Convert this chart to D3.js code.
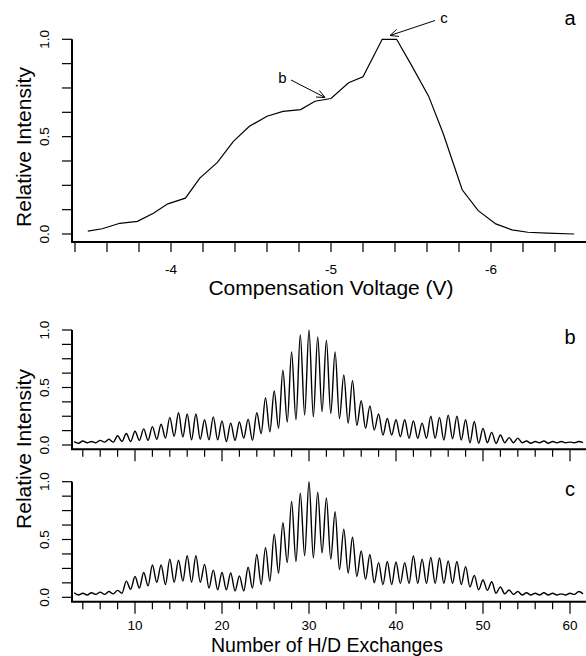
<!DOCTYPE html>
<html><head><meta charset="utf-8">
<script src="https://cdn.jsdelivr.net/npm/d3@7"></script>
<style>
html,body{margin:0;padding:0;background:#fff;}
svg{display:block;font-family:"Liberation Sans",Arial,sans-serif;}
</style></head>
<body><svg id="c" width="586" height="656"></svg>
<script>
// Panel a: compensation voltage scan
const cvVoltage = [-3.48,-3.57,-3.68,-3.79,-3.89,-3.98,-4.09,-4.18,-4.29,-4.39,-4.49,-4.60,-4.70,-4.81,-4.90,-5.00,-5.11,-5.20,-5.32,-5.41,-5.50,-5.61,-5.70,-5.82,-5.92,-6.03,-6.13,-6.23,-6.35,-6.52];
const cvIntensity = [0.015,0.027,0.055,0.065,0.107,0.155,0.184,0.287,0.368,0.476,0.553,0.605,0.630,0.639,0.682,0.696,0.777,0.808,1.0,1.0,0.871,0.708,0.519,0.227,0.120,0.052,0.021,0.009,0.004,0.0];

// Panels b and c: H/D exchange distributions (peak at each exchange number, valley after it)
const exchanges = d3.range(3, 62);
const peakB = [0.03,0.035,0.03,0.04,0.05,0.08,0.10,0.12,0.14,0.16,0.18,0.24,0.28,0.27,0.27,0.22,0.245,0.21,0.19,0.20,0.225,0.28,0.41,0.47,0.65,0.81,0.96,1.0,0.94,0.91,0.81,0.61,0.56,0.385,0.34,0.27,0.23,0.22,0.22,0.21,0.19,0.25,0.24,0.26,0.25,0.22,0.205,0.145,0.11,0.087,0.064,0.06,0.035,0.03,0.035,0.03,0.03,0.025,0.03];
const valleyB = [0.015,0.02,0.02,0.025,0.025,0.03,0.03,0.04,0.04,0.05,0.06,0.075,0.07,0.045,0.05,0.045,0.045,0.03,0.04,0.06,0.04,0.10,0.115,0.145,0.20,0.22,0.26,0.245,0.29,0.275,0.23,0.19,0.17,0.145,0.13,0.087,0.087,0.072,0.058,0.058,0.058,0.058,0.043,0.055,0.043,0.02,0.014,0.02,0.014,0.02,0.02,0.02,0.015,0.02,0.015,0.02,0.02,0.02,0.02];
const peakC = [0.04,0.035,0.04,0.045,0.05,0.06,0.14,0.18,0.215,0.28,0.28,0.33,0.32,0.36,0.36,0.285,0.235,0.215,0.21,0.185,0.26,0.37,0.43,0.545,0.645,0.83,0.90,1.0,0.91,0.86,0.74,0.59,0.52,0.40,0.37,0.30,0.31,0.305,0.30,0.36,0.33,0.345,0.34,0.315,0.31,0.265,0.19,0.15,0.135,0.09,0.063,0.05,0.04,0.035,0.04,0.035,0.03,0.035,0.05];
const valleyC = [0.02,0.02,0.025,0.025,0.03,0.035,0.07,0.08,0.10,0.13,0.11,0.13,0.14,0.13,0.13,0.08,0.065,0.065,0.055,0.055,0.08,0.11,0.14,0.21,0.30,0.31,0.36,0.34,0.385,0.33,0.24,0.21,0.18,0.155,0.126,0.11,0.11,0.12,0.12,0.12,0.12,0.12,0.12,0.12,0.11,0.09,0.065,0.06,0.035,0.03,0.025,0.02,0.02,0.02,0.02,0.02,0.02,0.025,0.03];

const cvTicks = d3.range(0, 17).map(i => -3.4 - 0.2 * i);
const cvLabels = [-4, -5, -6];
const yTicks = d3.range(0, 9).map(i => i * 0.125);
const yLabels = [0, 0.5, 1];
const exTicks = d3.range(4, 61, 2);
const exLabels = [10, 20, 30, 40, 50, 60];

const svg = d3.select("#c");
const FONT_TICK = 13.5, FONT_TITLE = 21;

function yAxis(g, y, x0, yBottom) {
  g.append("line").attr("x1", x0).attr("x2", x0).attr("y1", y(1)).attr("y2", yBottom)
    .attr("stroke", "#000").attr("stroke-width", 2);
  yTicks.forEach(t => {
    g.append("line").attr("x1", x0 - 10).attr("x2", x0).attr("y1", y(t)).attr("y2", y(t))
      .attr("stroke", "#000").attr("stroke-width", 1.2);
  });
  yLabels.forEach(t => {
    g.append("text").attr("transform", `translate(${x0 - 23},${y(t)}) rotate(-90)`)
      .attr("text-anchor", "middle").attr("font-size", FONT_TICK).text(d3.format(".1f")(t));
  });
}

// ---------- Panel a ----------
const xa = d3.scaleLinear().domain([-4, -6]).range([171, 491]);
const ya = d3.scaleLinear().domain([0, 1]).range([234, 39.3]);
const ga = svg.append("g");
const axA = 242;
ga.append("line").attr("x1", 71).attr("x2", 586).attr("y1", axA).attr("y2", axA).attr("stroke", "#000").attr("stroke-width", 2);
cvTicks.forEach(t => {
  ga.append("line").attr("x1", xa(t)).attr("x2", xa(t)).attr("y1", axA).attr("y2", axA + 10).attr("stroke", "#000").attr("stroke-width", 1.2);
});
cvLabels.forEach(t => {
  ga.append("text").attr("x", xa(t)).attr("y", 274).attr("text-anchor", "middle").attr("font-size", FONT_TICK).text(t);
});
yAxis(ga, ya, 72, axA);
ga.append("path").datum(cvVoltage.map((v, i) => [v, cvIntensity[i]]))
  .attr("d", d3.line().x(d => xa(d[0])).y(d => ya(d[1])))
  .attr("fill", "none").attr("stroke", "#000").attr("stroke-width", 1.2);
ga.append("text").attr("x", 331).attr("y", 295).attr("text-anchor", "middle").attr("font-size", FONT_TITLE).text("Compensation Voltage (V)");
ga.append("text").attr("transform", "translate(31,147) rotate(-90)").attr("text-anchor", "middle").attr("font-size", FONT_TITLE).text("Relative Intensity");
ga.append("text").attr("x", 570).attr("y", 25).attr("text-anchor", "middle").attr("font-size", 20).text("a");

function arrow(g, x1, y1, x2, y2) {
  g.append("line").attr("x1", x1).attr("y1", y1).attr("x2", x2).attr("y2", y2).attr("stroke", "#000").attr("stroke-width", 1);
  const ang = Math.atan2(y1 - y2, x1 - x2), L = 9, w = 0.42;
  [ang + w, ang - w].forEach(a => {
    g.append("line").attr("x1", x2).attr("y1", y2).attr("x2", x2 + L * Math.cos(a)).attr("y2", y2 + L * Math.sin(a))
      .attr("stroke", "#000").attr("stroke-width", 1);
  });
}
ga.append("text").attr("x", 282.5).attr("y", 83).attr("text-anchor", "middle").attr("font-size", 15).text("b");
arrow(ga, 291, 80, 325, 97.5);
ga.append("text").attr("x", 444).attr("y", 23).attr("text-anchor", "middle").attr("font-size", 15).text("c");
arrow(ga, 435, 20.5, 390, 35.5);

// ---------- Panels b and c ----------
const xs = d3.scaleLinear().domain([10, 60]).range([135, 570]);
function spectrum(peaks, valleys, y0, y1, axY, letter, showLabels) {
  const y = d3.scaleLinear().domain([0, 1]).range([y0, y1]);
  const g = svg.append("g");
  g.append("line").attr("x1", 71).attr("x2", 586).attr("y1", axY).attr("y2", axY).attr("stroke", "#000").attr("stroke-width", 2);
  exTicks.forEach(t => {
    const major = t % 10 === 0;
    g.append("line").attr("x1", xs(t)).attr("x2", xs(t)).attr("y1", axY).attr("y2", axY + (major ? 12 : 7.5))
      .attr("stroke", "#000").attr("stroke-width", 1.2);
  });
  if (showLabels) exLabels.forEach(t => {
    g.append("text").attr("x", xs(t)).attr("y", axY + 28).attr("text-anchor", "middle").attr("font-size", FONT_TICK).text(t);
  });
  yAxis(g, y, 72, axY);
  const pts = [];
  exchanges.forEach((e, i) => { pts.push([e, peaks[i]]); pts.push([e + 0.5, valleys[i]]); });
  g.append("path").datum(pts)
    .attr("d", d3.line().curve(d3.curveMonotoneX).x(d => xs(d[0])).y(d => y(d[1])))
    .attr("fill", "none").attr("stroke", "#000").attr("stroke-width", 1.4).attr("stroke-linejoin", "round");
  g.append("text").attr("x", 570).attr("y", letter === "b" ? 344 : 496).attr("text-anchor", "middle").attr("font-size", 20).text(letter);
}
spectrum(peakB, valleyB, 445, 330, 449.3, "b", false);
spectrum(peakC, valleyC, 597.3, 481.7, 601.7, "c", true);

svg.append("text").attr("transform", "translate(31,449) rotate(-90)").attr("text-anchor", "middle").attr("font-size", FONT_TITLE).text("Relative Intensity");
svg.append("text").attr("x", 327).attr("y", 651.5).attr("text-anchor", "middle").attr("font-size", 19.5).text("Number of H/D Exchanges");
</script></body></html>
